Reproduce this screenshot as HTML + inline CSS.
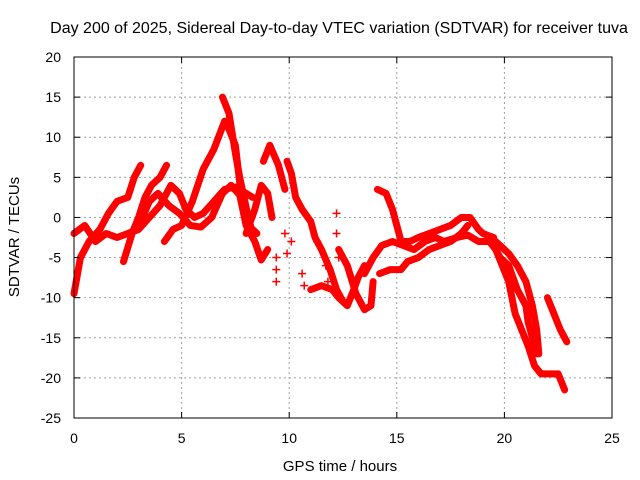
<!DOCTYPE html>
<html><head><meta charset="utf-8"><style>
body{margin:0;background:#fff;}
svg{display:block;font-family:"Liberation Sans",sans-serif;}
</style></head><body>
<svg id="c" width="640" height="480">
<text x="339" y="33" text-anchor="middle" font-size="16">Day 200 of 2025, Sidereal Day-to-day VTEC variation (SDTVAR) for receiver tuva</text>
<text x="340" y="471" text-anchor="middle" font-size="15">GPS time / hours</text>
<text transform="translate(19,237) rotate(-90)" text-anchor="middle" font-size="15">SDTVAR / TECUs</text>
<g id="grid"></g><g id="marks"></g><g id="axes"></g>
</svg>
<script>
const xTicks=[0,5,10,15,20,25];
const yTicks=[20,15,10,5,0,-5,-10,-15,-20,-25];
const trackA=[[0,-9.5],[0.3,-5],[0.7,-3],[1.2,-1.5],[1.6,0.5],[2,2],[2.5,2.5],[2.8,5],[3.1,6.5]];
const trackB=[[0,-2],[0.5,-1],[1,-3],[1.5,-2],[2,-2.5],[2.5,-2],[3,-1.5],[3.5,0],[4,1.5],[4.5,4],[4.9,3],[5.2,1],[5.6,0],[6,0.5],[6.5,2],[7,3.5],[7.5,3.8],[8,3],[8.3,2.5]];
const trackC=[[2.3,-5.5],[2.7,-2],[3,0],[3.3,2.5],[3.6,4],[4,5],[4.3,6.5]];
const trackD=[[3.1,-0.5],[3.5,2],[3.9,3],[4.4,1.5],[4.9,0.5],[5.4,-1],[5.9,-1.2],[6.4,0],[6.9,3],[7.3,4],[7.7,2.8],[8,-1],[8.4,-3],[8.7,-5.3],[9,-4]];
const trackE=[[4.2,-3],[4.6,-1.5],[5,-1],[5.5,2],[6,6],[6.5,8.5],[7,12],[7.2,11],[7.5,9],[7.8,2],[8.1,-1],[8.5,-2]];
const trackF=[[6.9,15],[7.2,13],[7.5,8],[7.7,5],[8.1,0],[8.3,-2]];
const trackH=[[8,-2],[8.4,1],[8.7,4],[9,3],[9.2,0]];
const trackI=[[8.8,7],[9.1,9],[9.5,6.5],[9.8,3.5]];
const trackJ=[[9.9,7],[10.1,5.5],[10.3,2.5],[10.6,1],[11,-0.5],[11.2,-2.5],[11.5,-4],[11.9,-6.5],[12.2,-9],[12.5,-10.5]];
const trackK=[[11,-9],[11.5,-8.5],[12,-9],[12.3,-10],[12.7,-11],[13,-9],[13.2,-7.5],[13.5,-6]];
const trackL=[[12.3,-4],[12.7,-6],[13.1,-9.5],[13.5,-11.5],[13.8,-11],[13.9,-8]];
const trackM=[[13.5,-7],[13.9,-5],[14.3,-3.5],[14.8,-3],[15.3,-3.5],[15.8,-4],[16.3,-3],[16.8,-2.5],[17.2,-3],[17.8,-2.5],[18.3,-2.2],[18.8,-3],[19.3,-3],[19.6,-4],[19.9,-6],[20.2,-8],[20.5,-12],[20.8,-14],[21.1,-16],[21.4,-18.5],[21.7,-19.5],[22.2,-19.5],[22.5,-19.5],[22.8,-21.5]];
const trackN=[[14.2,-7],[14.7,-6.5],[15.2,-6.5],[15.5,-5.5],[16,-5],[16.5,-4],[17,-3.5],[17.5,-3],[18,-2],[18.3,-1]];
const trackO=[[14.1,3.5],[14.5,3],[14.8,1],[15,-1],[15.2,-3],[15.6,-3],[16,-2.5],[16.5,-2],[17,-1.5],[17.5,-1],[18,0],[18.4,0],[18.8,-1.5],[19,-2],[19.5,-2.5]];
const trackP=[[19.4,-3],[19.8,-5],[20.2,-6],[20.6,-9],[21,-11],[21.1,-13],[21.3,-15],[21.5,-17]];
const trackQ=[[19.6,-3],[20.2,-4.5],[20.6,-6],[21,-8],[21.3,-11],[21.5,-14],[21.6,-17]];
const trackR=[[22,-10],[22.3,-12],[22.6,-14],[22.9,-15.5]];
const scatterPts=[[9.4,-5],[9.4,-6.5],[9.4,-8],[9.9,-4.5],[9.8,-2],[10.1,-3],[10.6,-7],[10.7,-8.5],[11.3,-3],[11.7,-6],[11.8,-8],[12.2,0.5],[12.2,-2],[12.3,-5]];
const tracks=[trackA,trackB,trackC,trackD,trackE,trackF,trackH,trackI,trackJ,trackK,trackL,trackM,trackN,trackO,trackP,trackQ,trackR];
const X0=74,X1=612,Y0=57,Y1=418;
const xs=v=>X0+(v-0)/25*(X1-X0);
const ys=v=>Y0+(20-v)/45*(Y1-Y0);
const NS="http://www.w3.org/2000/svg";
function mk(t,a,p){const e=document.createElementNS(NS,t);for(const k in a)e.setAttribute(k,a[k]);p.appendChild(e);return e;}
const grid=document.getElementById('grid'),axes=document.getElementById('axes'),marks=document.getElementById('marks');
xTicks.forEach(t=>{const x=xs(t);
 if(t>0&&t<25){const g=mk('line',{x1:x,x2:x,y1:Y0,y2:Y1,stroke:'#a0a0a0','stroke-dasharray':'2,3'},grid);
 
 }
 mk('line',{x1:x,x2:x,y1:Y1,y2:Y1-6,stroke:'#000'},axes);
 mk('line',{x1:x,x2:x,y1:Y0,y2:Y0+6,stroke:'#000'},axes);
 const l=mk('text',{x:x,y:443,'text-anchor':'middle','font-size':'14'},axes);l.textContent=t;
 
 });
yTicks.forEach(t=>{const y=ys(t);
 if(t<20&&t>-25){const g=mk('line',{x1:X0,x2:X1,y1:y,y2:y,stroke:'#a0a0a0','stroke-dasharray':'2,3'},grid);
 
 }
 mk('line',{x1:X0,x2:X0+6,y1:y,y2:y,stroke:'#000'},axes);
 mk('line',{x1:X1,x2:X1-6,y1:y,y2:y,stroke:'#000'},axes);
 const l=mk('text',{x:61,y:y+5,'text-anchor':'end','font-size':'14'},axes);l.textContent=t;
 
 });
const fr=mk('rect',{x:X0,y:Y0,width:X1-X0,height:Y1-Y0,fill:'none',stroke:'#000'},axes);


tracks.forEach(tr=>{
 const p=mk('polyline',{points:tr.map(d=>xs(d[0])+','+ys(d[1])).join(' '),fill:'none',stroke:'#ff0000','stroke-width':7,'stroke-linejoin':'round','stroke-linecap':'round'},marks);
 
 });
scatterPts.forEach(d=>{const x=xs(d[0]),y=ys(d[1]);
 const p=mk('path',{d:`M${x-4},${y}H${x+4}M${x},${y-4}V${y+4}`,stroke:'#ff0000','stroke-width':1.5},marks);
 
 });
</script>
</body></html>
